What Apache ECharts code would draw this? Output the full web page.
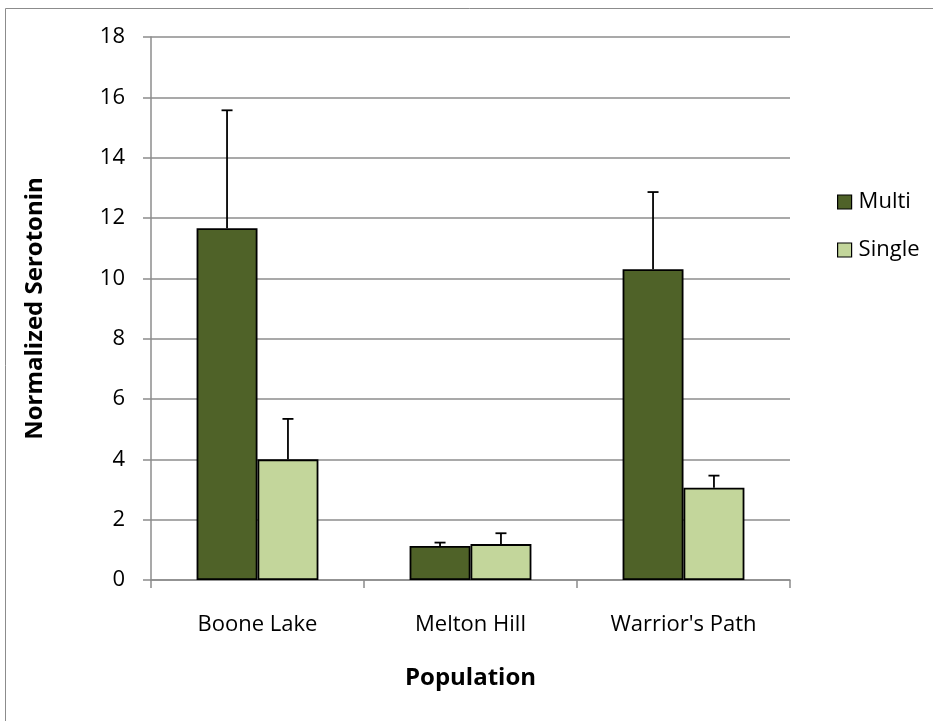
<!DOCTYPE html>
<html><head><meta charset="utf-8">
<script src="https://cdn.jsdelivr.net/npm/echarts@6/dist/echarts.min.js"></script>
<style>html,body{margin:0;padding:0;background:#fff}#c{width:933px;height:721px}</style>
</head><body><div id="c"></div>
<script>
const categories = ["Boone Lake", "Melton Hill", "Warrior's Path"];
const seriesNames = ["Multi", "Single"];
const multiValues = [11.66, 1.13, 10.30];
const singleValues = [4.00, 1.19, 3.06];
const multiErrors = [3.91, 0.11, 2.56];
const singleErrors = [1.34, 0.36, 0.40];
const yTicks = [0, 2, 4, 6, 8, 10, 12, 14, 16, 18];

const colors = ['#4F6228', '#C3D69B'];
const FONT = '"Open Sans", "Noto Sans", sans-serif';
const BAR_FRAC = 0.286;

const chart = echarts.init(document.getElementById('c'), null, {renderer: 'canvas'});

function errSeries(values, errors, sign) {
  return {
    type: 'custom',
    z: 5,
    silent: true,
    data: categories.map((c, i) => [i, values[i], values[i] + errors[i]]),
    renderItem: function (params, api) {
      const i = api.value(0);
      const bandW = api.size([1, 0])[0];
      const bw = bandW * BAR_FRAC;
      const base = api.coord([i, api.value(1)]);
      const top = api.coord([i, api.value(2)]);
      const x = base[0] + sign * bw / 2;
      const cap = 5.5;
      const st = {stroke: '#000', lineWidth: 1.8};
      return {
        type: 'group',
        children: [
          {type: 'line', shape: {x1: x, y1: base[1], x2: x, y2: top[1]}, style: st},
          {type: 'line', shape: {x1: x - cap, y1: top[1], x2: x + cap, y2: top[1]}, style: st}
        ]
      };
    }
  };
}

chart.setOption({
  animation: false,
  backgroundColor: '#fff',
  graphic: [{
    type: 'rect', shape: {x: 5.5, y: 8.5, width: 940, height: 730},
    style: {fill: 'none', stroke: '#8c8c8c', lineWidth: 1}, z: -10
  }],
  grid: {left: 151, right: 143, top: 37, bottom: 141, containLabel: false},
  legend: {
    orient: 'vertical', left: 832, top: 186, itemGap: 26,
    itemWidth: 14, itemHeight: 14, icon: 'rect',
    data: seriesNames,
    itemStyle: {borderColor: '#000', borderWidth: 1.2},
    textStyle: {fontFamily: FONT, fontSize: 22, color: '#000', padding: [0, 0, 0, 2]}
  },
  xAxis: {
    type: 'category', data: categories,
    axisLine: {show: true, lineStyle: {color: '#8c8c8c', width: 1.5}},
    axisTick: {show: true, length: 8, lineStyle: {color: '#8c8c8c', width: 1.5}},
    axisLabel: {fontFamily: FONT, fontSize: 22, color: '#000', margin: 34},
    name: 'Population', nameLocation: 'middle', nameGap: 86,
    nameTextStyle: {fontFamily: FONT, fontSize: 24, fontWeight: 'bold', color: '#000'}
  },
  yAxis: {
    type: 'value', min: 0, max: 18, interval: 2,
    axisLine: {show: true, lineStyle: {color: '#8c8c8c', width: 1.5}},
    axisTick: {show: true, length: 8, lineStyle: {color: '#8c8c8c', width: 1.5}},
    splitLine: {show: true, lineStyle: {color: '#8c8c8c', width: 1.5}},
    axisLabel: {fontFamily: FONT, fontSize: 22, color: '#000', margin: 26,
      formatter: v => yTicks.includes(v) ? String(v) : ''},
    name: 'Normalized Serotonin', nameLocation: 'middle', nameGap: 104, nameRotate: 90,
    nameTextStyle: {fontFamily: FONT, fontSize: 24, fontWeight: 'bold', color: '#000'}
  },
  series: [
    {name: seriesNames[0], type: 'bar', data: multiValues, barWidth: (BAR_FRAC * 100) + '%', barGap: '0%',
     itemStyle: {color: colors[0], borderColor: '#000', borderWidth: 1.8}},
    {name: seriesNames[1], type: 'bar', data: singleValues, barWidth: (BAR_FRAC * 100) + '%', barGap: '0%',
     itemStyle: {color: colors[1], borderColor: '#000', borderWidth: 1.8}},
    errSeries(multiValues, multiErrors, -1),
    errSeries(singleValues, singleErrors, 1)
  ]
});
</script></body></html>
